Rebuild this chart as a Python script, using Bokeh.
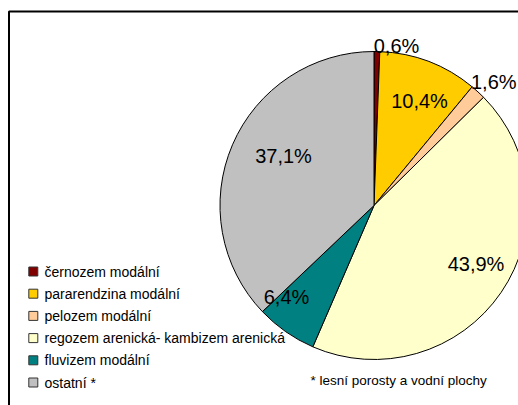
import numpy as np
from bokeh.plotting import figure
from bokeh.models import Range1d, ColumnDataSource
from bokeh.core.properties import value
from bokeh.embed import file_html
from bokeh.resources import INLINE

# ---- data ----
categories = ["černozem modální", "pararendzina modální", "pelozem modální",
              "regozem arenická- kambizem arenická", "fluvizem modální", "ostatní *"]
shares = [0.6, 10.4, 1.6, 43.9, 6.4, 37.1]
colors = ["#800000", "#FFCC00", "#FFCC99", "#FFFFCC", "#008080", "#C0C0C0"]
footnote = "* lesní porosty a vodní plochy"

# label offsets from pie centre (px, screen: +x right, +y down)
label_dx = [22.5, 45.5, 97.0, 102.0, -87.5, -90.5]
label_dy = [-160.0, -105.0, -123.3, 58.0, 91.0, -50.0]
label_align = ["center", "center", "left", "center", "center", "center"]

W, H = 518, 405
FONT = "Liberation Sans"

p = figure(width=W, height=H, output_backend="svg", toolbar_location=None,
           x_range=Range1d(0, W), y_range=Range1d(0, H),
           min_border=0, x_axis_type=None, y_axis_type=None)
p.grid.visible = False
p.outline_line_color = None
p.background_fill_color = "white"
p.border_fill_color = "white"

# frame (top and left edges visible)
p.line(x=[8.5, 8.5, W + 20], y=[-20, H - 11, H - 11],
       line_color="black", line_width=2)

# pie
cx, cy, r = 373.5, H - 205.0, 154.0
vals = np.array(shares, dtype=float)
frac = vals / vals.sum()
cum = np.concatenate([[0], np.cumsum(frac)])
start = np.pi / 2 - 2 * np.pi * cum[:-1]
end = np.pi / 2 - 2 * np.pi * cum[1:]
src = ColumnDataSource(dict(start=start, end=end, color=colors))
p.wedge(x=cx, y=cy, radius=r, start_angle="start", end_angle="end",
        direction="clock", fill_color="color", line_color="black",
        line_width=1, source=src)

# percentage labels
labels = [f"{v:.1f}%".replace(".", ",") for v in shares]
lx = [cx + d for d in label_dx]
ly = [cy - d for d in label_dy]
lsrc = ColumnDataSource(dict(x=lx, y=ly, t=labels, a=label_align))
p.text(x="x", y="y", text="t", text_align="a", text_baseline="middle",
       text_font=value(FONT), text_font_size="20px", text_color="black",
       source=lsrc)

# legend
n = len(categories)
leg_y = [H - 271 - i * 22.2 for i in range(n)]
p.rect(x=[32.8] * n, y=leg_y, width=9, height=9, fill_color=colors,
       line_color="#333333", line_width=1)
p.text(x=[44] * n, y=leg_y, text=categories, text_baseline="middle",
       text_font=value(FONT), text_font_size="14px", text_color="black")

# footnote
p.text(x=[310], y=[H - 380], text=[footnote], text_baseline="middle",
       text_font=value(FONT), text_font_size="13.5px", text_color="black")

open("out.html", "w").write(file_html(p, INLINE))
